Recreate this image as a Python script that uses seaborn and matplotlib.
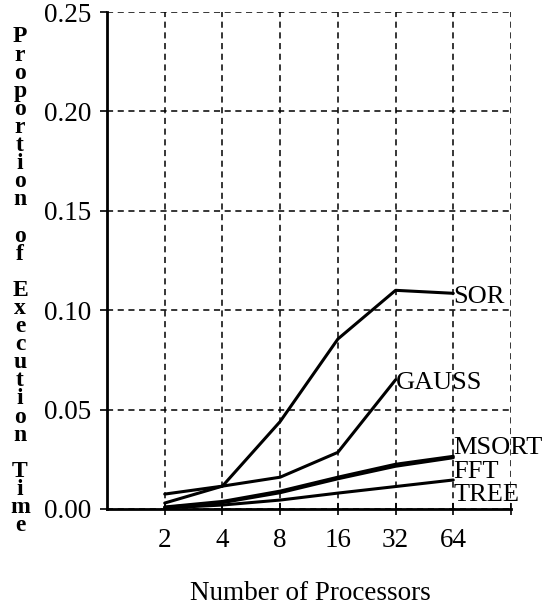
import numpy as np
import pandas as pd
import matplotlib.pyplot as plt
import seaborn as sns

# values
procs = [2, 4, 8, 16, 32, 64]
sor = [0.003, 0.0115, 0.044, 0.0855, 0.110, 0.1085]
gauss = [0.0075, 0.0115, 0.016, 0.0285, 0.065]
msort = [0.001, 0.0038, 0.009, 0.016, 0.0225, 0.0265]
fft = [0.0008, 0.0032, 0.0082, 0.0152, 0.0215, 0.0258]
tree = [0.0005, 0.002, 0.0045, 0.008, 0.0113, 0.0146]
names = ["SOR", "GAUSS", "MSORT", "FFT", "TREE"]
yticks = [0.00, 0.05, 0.10, 0.15, 0.20, 0.25]

rows = []
for name, vals in zip(names, [sor, gauss, msort, fft, tree]):
    for p, v in zip(procs, vals):
        rows.append({"series": name, "pos": np.log2(p), "value": v})
df = pd.DataFrame(rows)

sns.set_style("white")
plt.rcParams['font.family'] = ['Liberation Serif', 'DejaVu Serif']

fig = plt.figure(figsize=(5.59, 6.13), dpi=100)
ax = fig.add_axes([107 / 559, 104 / 613, 404 / 559, 497 / 613])

sns.lineplot(data=df, x="pos", y="value", hue="series", units="series",
             estimator=None, palette=["black"] * 5, linewidth=2.2,
             legend=False, ax=ax)

ax.set_xlim(0, 7)
ax.set_ylim(0, 0.25)
ax.set_xticks(list(range(1, 8)))
ax.set_xticklabels([str(p) for p in procs] + [""])
ax.set_yticks(yticks)
ax.set_yticklabels([f"{t:.2f}" for t in yticks])
ax.set_xlabel("")
ax.set_ylabel("")

ax.grid(True, color="black", linestyle=(0, (4, 3)), linewidth=1.1)
ax.set_axisbelow(True)
for s in ["top", "right"]:
    ax.spines[s].set_visible(False)
for s in ["left", "bottom"]:
    ax.spines[s].set_color("black")
    ax.spines[s].set_linewidth(2.0)

ax.tick_params(axis="x", direction="inout", length=8, width=1.2,
               pad=10, labelsize=19.5, colors="black", bottom=True)
ax.tick_params(axis="y", direction="out", length=5, width=1.2,
               pad=6, labelsize=19.5, colors="black", left=True)

# series labels
label_pos = {"SOR": (6, 0.1068), "GAUSS": (5, 0.0634), "MSORT": (6, 0.0307),
             "FFT": (6, 0.0188), "TREE": (6, 0.0070)}
for name, (x, y) in label_pos.items():
    ax.text(x, y, name, ha="left", va="center", fontsize=19, color="black")

# stacked y-axis label, one upright letter per line
ylab = "Proportion of Execution Time"
for i, ch in enumerate(ylab):
    if ch == " ":
        continue
    fig.text(20 / 559, 1 - (37 + i * 18.1) / 613, ch, ha="center", va="center",
             fontsize=17, fontweight="bold", color="black")

fig.text(310 / 559, 1 - 593 / 613, "Number of Processors", ha="center",
         va="center", fontsize=19.5, color="black")

fig.savefig("out.png", dpi=100)
